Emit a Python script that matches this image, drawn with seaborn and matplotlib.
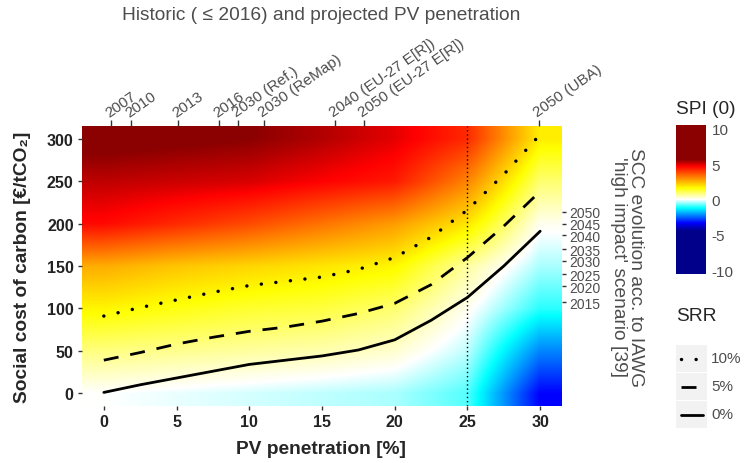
import numpy as np
import pandas as pd
import matplotlib
matplotlib.use("Agg")
import matplotlib.pyplot as plt
from matplotlib.colors import LinearSegmentedColormap, Normalize
from matplotlib.lines import Line2D
from matplotlib.patches import Rectangle
import seaborn as sns

sns.set_style("ticks")
plt.rcParams["font.family"] = ["Liberation Sans", "DejaVu Sans"]
plt.rcParams["axes.unicode_minus"] = False

# SRR threshold curves: social cost of carbon vs. PV penetration
pv = [0, 2.5, 5, 7.5, 10, 12.5, 15, 17.5, 20, 22.5, 25, 27.5, 30]
srr_0 = [1, 10, 18, 26, 34, 39, 44, 51, 63, 86, 113, 150, 191]
srr_5 = [39, 48, 58, 66, 73, 78, 85, 94, 106, 128, 160, 197, 238]
srr_10 = [91, 101, 110, 119, 127, 132, 137, 146, 160, 184, 216, 258, 305]

# SPI background field, one row per SCC level
spi_pv = [0, 5, 10, 15, 20, 25, 30]
spi_scc = [0, 50, 100, 150, 200, 250, 300]
spi_scc_0 = [0.0, -0.1, -0.2, -0.3, -0.4, -0.8, -3.3]
spi_scc_50 = [0.8, 0.7, 0.6, 0.5, 0.3, -0.3, -2.2]
spi_scc_100 = [1.7, 1.5, 1.3, 1.2, 0.9, 0.1, -1.0]
spi_scc_150 = [2.6, 2.3, 2.1, 1.9, 1.7, 0.6, -0.4]
spi_scc_200 = [4.6, 4.2, 3.8, 3.3, 2.8, 1.9, 0.1]
spi_scc_250 = [5.2, 5.1, 5.0, 4.7, 4.4, 3.1, 0.9]
spi_scc_300 = [5.8, 5.7, 5.6, 5.3, 4.9, 4.2, 1.8]

# top axis: historic / projected penetration
top_pv = [0.5, 1.9, 5.1, 7.9, 9.2, 11.0, 15.9, 17.9, 29.9]
top_labels = ["2007", "2010", "2013", "2016", "2030 (Ref.)", "2030 (ReMap)",
              "2040 (EU-27 E[R])", "2050 (EU-27 E[R])", "2050 (UBA)"]

# right axis: SCC evolution by year
year_scc = [107, 126, 140, 156, 170, 186, 200, 214]
year_labels = ["2015", "2020", "2025", "2030", "2035", "2040", "2045", "2050"]

W, H = 750, 464
fig = plt.figure(figsize=(W / 100, H / 100), dpi=100)
ax = fig.add_axes([82 / W, 1 - 407 / H, 480 / W, 280 / H])

vmin, vmax = -10.5, 10.5
def pos(v):
    return (v - vmin) / (vmax - vmin)

spi_cmap = LinearSegmentedColormap.from_list("spi", [
    (0.0, "#00008B"), (pos(-4.4), "#00008B"), (pos(-3.3), "#0000FF"),
    (pos(-1.2), "#00FFFF"), (pos(0), "#FFFFFF"), (pos(1.6), "#FFFF00"),
    (pos(4.7), "#FF0000"), (pos(5.6), "#8B0000"), (1.0, "#8B0000")], N=4096)

field = np.array([spi_scc_0, spi_scc_50, spi_scc_100, spi_scc_150,
                  spi_scc_200, spi_scc_250, spi_scc_300])
dx = spi_pv[1] - spi_pv[0]
dy = spi_scc[1] - spi_scc[0]
im = ax.imshow(field, origin="lower", aspect="auto", interpolation="bilinear",
               interpolation_stage="data",
               cmap=spi_cmap, norm=Normalize(vmin, vmax),
               extent=(spi_pv[0] - dx / 2, spi_pv[-1] + dx / 2,
                       spi_scc[0] - dy / 2, spi_scc[-1] + dy / 2),
               zorder=0)

styles = {
    "10%": (0, (0.01, 4.2)),
    "5%": (0, (5.4, 4.3)),
    "0%": "-",
}
widths = {"10%": 2.5, "5%": 2.0, "0%": 2.0}
for vals, key in ((srr_10, "10%"), (srr_5, "5%"), (srr_0, "0%")):
    sns.lineplot(x=pv, y=vals, color="black", linewidth=widths[key], ax=ax, zorder=3)
    ln = ax.lines[-1]
    ln.set_linestyle(styles[key])
    ln.set_dash_capstyle("round" if key == "10%" else "butt")

ax.axvline(25, color="black", linewidth=1, linestyle=(0, (1, 2)), zorder=4)

ax.set_xlim(-1.5, 31.5)
ax.set_ylim(-15, 315)
ax.set_xticks([0, 5, 10, 15, 20, 25, 30])
ax.set_yticks([0, 50, 100, 150, 200, 250, 300])
for s in ax.spines.values():
    s.set_visible(False)
ax.tick_params(length=3, width=1, color="#333333", labelsize=11.5,
               labelcolor="#222222", pad=3)
for t in ax.get_xticklabels() + ax.get_yticklabels():
    t.set_fontweight("bold")

top = ax.secondary_xaxis("top")
top.set_xticks(top_pv, labels=top_labels)
top.spines["top"].set_visible(False)
top.tick_params(length=4, width=1, color="#333333", labelsize=11,
                labelcolor="#4D4D4D", pad=1)
for t in top.get_xticklabels():
    t.set_rotation(35)
    t.set_ha("left")
    t.set_rotation_mode("anchor")

right = ax.secondary_yaxis("right")
right.set_yticks(year_scc, labels=year_labels)
right.spines["right"].set_visible(False)
right.tick_params(length=3, width=1, color="#333333", labelsize=10,
                  labelcolor="#4D4D4D", pad=2)

fig.text(321 / W, 1 - 15 / H, "Historic ( \u2264 2016) and projected PV penetration",
         ha="center", va="center", fontsize=13.8, color="#4D4D4D")
fig.text(321 / W, 1 - 450 / H, "PV penetration [%]", ha="center", va="center",
         fontsize=13.8, fontweight="bold")
fig.text(23 / W, 1 - 267 / H, "Social cost of carbon [\u20ac/tCO\u2082]",
         ha="center", va="center", rotation=90, fontsize=13.8, fontweight="bold")
fig.text(627 / W, 1 - 267 / H,
         "SCC evolution acc. to IAWG\n'high impact' scenario [39]",
         ha="center", va="center", rotation=270, multialignment="center",
         linespacing=1.05, fontsize=13.8, color="#4D4D4D")

# SPI colour bar
cax = fig.add_axes([676 / W, 1 - 275 / H, 30 / W, 149 / H])
cb = fig.colorbar(im, cax=cax, ticks=[-10, -5, 0, 5, 10])
cb.outline.set_visible(False)
cax.yaxis.set_ticks_position("both")
cax.tick_params(direction="in", length=4, width=1, color="white",
                labelcolor="#4D4D4D", labelsize=11, pad=4,
                left=True, right=True, labelleft=False, labelright=True)
fig.text(676 / W, 1 - 110 / H, "SPI (0)", ha="left", va="center", fontsize=13.8)

# SRR legend
lax = fig.add_axes([0, 0, 1, 1])
lax.set_xlim(0, W)
lax.set_ylim(H, 0)
lax.axis("off")
lax.text(676, 317, "SRR", ha="left", va="center", fontsize=13.8)
for i, key in enumerate(["10%", "5%", "0%"]):
    yc = 359.5 + 28 * i
    lax.add_patch(Rectangle((676, yc - 13.5), 31, 27, color="#F2F2F2", lw=0))
    lax.add_line(Line2D([681, 703], [yc, yc], color="black", linewidth=widths[key],
                        linestyle=styles[key],
                        dash_capstyle="round" if key == "10%" else "butt"))
    lax.text(711, yc, key, ha="left", va="center", fontsize=11, color="#4D4D4D")

fig.savefig("out.png", dpi=100)
